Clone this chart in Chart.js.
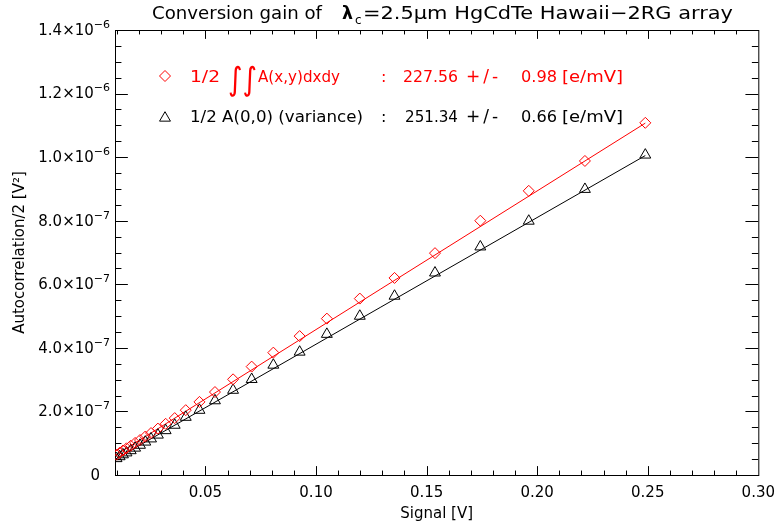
<!DOCTYPE html>
<html>
<head>
<meta charset="utf-8">
<title>Conversion gain</title>
<script src="https://cdn.jsdelivr.net/npm/chart.js@4.4.1/dist/chart.umd.min.js"></script>
<style>
  html, body { margin: 0; padding: 0; background: #fff; }
  canvas { display: block; }
</style>
</head>
<body>
<canvas id="gain" width="784" height="529"></canvas>
<script>
// mean signal of each ramp sample [V]
const signal = [0.2489, 0.2216, 0.1962, 0.1743, 0.1538, 0.1355, 0.1198, 0.1049, 0.0926,
  0.0807, 0.0709, 0.0625, 0.0543, 0.0473, 0.0411, 0.0361, 0.0320, 0.0285, 0.0254,
  0.0228, 0.0204, 0.0182, 0.0162, 0.0143, 0.0127, 0.0112, 0.0098];
// 1/2 of the integrated autocorrelation [V^2]
const acfIntegral = [1.108e-6, 9.88e-7, 8.94e-7, 8.00e-7, 6.98e-7, 6.20e-7, 5.55e-7, 4.92e-7, 4.37e-7,
  3.85e-7, 3.41e-7, 3.01e-7, 2.61e-7, 2.30e-7, 2.04e-7, 1.79e-7, 1.61e-7, 1.46e-7, 1.32e-7,
  1.21e-7, 1.10e-7, 1.01e-7, 9.2e-8, 8.4e-8, 7.7e-8, 7.0e-8, 6.4e-8];
// 1/2 A(0,0), i.e. half the variance [V^2]
const acfVariance = [1.007e-6, 8.99e-7, 7.99e-7, 7.18e-7, 6.36e-7, 5.63e-7, 5.00e-7, 4.43e-7, 3.87e-7,
  3.46e-7, 3.01e-7, 2.67e-7, 2.34e-7, 2.04e-7, 1.82e-7, 1.57e-7, 1.40e-7, 1.26e-7, 1.14e-7,
  1.04e-7, 9.4e-8, 8.5e-8, 7.7e-8, 7.0e-8, 6.4e-8, 5.8e-8, 5.2e-8];

// linear fits, end points only
const fitSignal = [0.0091, 0.2489];
const fitIntegral = [6.1e-8, 1.107e-6];
const fitVariance = [4.9e-8, 1.005e-6];

const xTickLabels = ['0.05', '0.10', '0.15', '0.20', '0.25', '0.30'];
// y labels as mantissa ×10^exponent
const yTickMantissa = ['0', '2.0', '4.0', '6.0', '8.0', '1.0', '1.2', '1.4'];
const yTickExponent = ['', '−7', '−7', '−7', '−7', '−6', '−6', '−6'];

const RED = '#ff0000';
const FONT = '"DejaVu Sans", sans-serif';

function pairs(xs, ys) {
  return xs.map((x, i) => ({ x: x, y: ys[i] }));
}

// squeeze/stretch a string so it spans w pixels
function fitText(ctx, text, x, y, w) {
  const m = ctx.measureText(text).width;
  ctx.save();
  ctx.translate(x, y);
  ctx.scale(w / m, 1);
  ctx.fillText(text, 0, 0);
  ctx.restore();
}

// box with inward ticks on all four sides, plus the y labels
const frame = {
  id: 'frame',
  beforeDatasetsDraw(chart) {
    const { ctx, chartArea: a, scales: { x, y } } = chart;
    const xLen = 0.02 * (a.bottom - a.top);
    const yLen = 0.02 * (a.right - a.left);
    ctx.save();
    ctx.strokeStyle = '#000';
    ctx.lineWidth = 1;
    ctx.strokeRect(a.left + 0.5, a.top + 0.5, a.right - a.left, a.bottom - a.top);
    ctx.beginPath();
    x.ticks.forEach(t => {
      const px = Math.round(x.getPixelForValue(t.value)) + 0.5;
      if (px < a.left + 1 || px > a.right) return;
      const len = t.major ? xLen : xLen / 2;
      ctx.moveTo(px, a.bottom); ctx.lineTo(px, a.bottom - len);
      ctx.moveTo(px, a.top); ctx.lineTo(px, a.top + len);
    });
    y.ticks.forEach(t => {
      const py = Math.round(y.getPixelForValue(t.value)) + 0.5;
      const len = t.major ? yLen : yLen / 2;
      ctx.moveTo(a.left, py); ctx.lineTo(a.left + len, py);
      ctx.moveTo(a.right, py); ctx.lineTo(a.right - len, py);
    });
    ctx.stroke();

    ctx.fillStyle = '#000';
    ctx.textAlign = 'right';
    ctx.textBaseline = 'middle';
    const right = a.left - 5;
    yTickMantissa.forEach((m, i) => {
      const py = y.getPixelForValue(i * 2e-7);
      const e = yTickExponent[i];
      if (!e) {
        ctx.font = '15px ' + FONT;
        ctx.fillText(m, right - 10, py + 1);
        return;
      }
      ctx.font = '11px ' + FONT;
      const ew = ctx.measureText(e).width;
      ctx.fillText(e, right, py - 5);
      ctx.font = '15px ' + FONT;
      ctx.fillText(m + '×10', right - ew, py + 1);
    });
    ctx.restore();
  }
};

// title and the fit results in the upper left
const annotations = {
  id: 'annotations',
  afterDraw(chart) {
    const ctx = chart.ctx;
    const mark = { rotation: 0, borderWidth: 1 };
    ctx.save();
    ctx.textAlign = 'left';
    ctx.textBaseline = 'alphabetic';
    ctx.lineWidth = 1;

    ctx.fillStyle = '#000';
    ctx.font = '18px ' + FONT;
    fitText(ctx, 'Conversion gain of', 152, 19, 170);
    ctx.font = 'bold 18px ' + FONT;
    fitText(ctx, 'λ', 342, 19, 11);
    ctx.font = '12px ' + FONT;
    ctx.fillText('c', 355, 24);
    ctx.font = '18px ' + FONT;
    fitText(ctx, '=2.5μm HgCdTe Hawaii−2RG array', 363, 19, 370);

    // red row
    ctx.strokeStyle = RED;
    ctx.fillStyle = 'rgba(0,0,0,0)';
    Chart.helpers.drawPoint(ctx, { ...mark, pointStyle: 'rectRot', radius: 5.5 }, 165, 76);
    ctx.fillStyle = RED;
    ctx.font = '16px ' + FONT;
    fitText(ctx, '1/2', 190, 82, 30);
    ctx.font = '32px ' + FONT;
    fitText(ctx, '∫∫', 228, 90, 29);
    ctx.font = '16px ' + FONT;
    fitText(ctx, 'A(x,y)dxdy', 258, 82, 82);
    ctx.fillText(':', 381, 82);
    fitText(ctx, '227.56', 403, 82, 55);
    ctx.font = '17px ' + FONT;
    ctx.letterSpacing = '3px';
    ctx.fillText('+/-', 466, 82);
    ctx.letterSpacing = '0px';
    ctx.font = '16px ' + FONT;
    fitText(ctx, '0.98', 521, 82, 36);
    fitText(ctx, '[e/mV]', 562, 82, 61);

    // black row
    ctx.strokeStyle = '#000';
    ctx.fillStyle = 'rgba(0,0,0,0)';
    Chart.helpers.drawPoint(ctx, { ...mark, pointStyle: 'triangle', radius: 6.3 }, 165, 118);
    ctx.fillStyle = '#000';
    fitText(ctx, '1/2 A(0,0) (variance)', 190, 122, 173);
    ctx.fillText(':', 381, 122);
    fitText(ctx, '251.34', 405, 122, 53);
    ctx.font = '17px ' + FONT;
    ctx.letterSpacing = '3px';
    ctx.fillText('+/-', 466, 122);
    ctx.letterSpacing = '0px';
    ctx.font = '16px ' + FONT;
    fitText(ctx, '0.66', 521, 122, 36);
    fitText(ctx, '[e/mV]', 562, 122, 61);
    ctx.restore();
  }
};

new Chart(document.getElementById('gain'), {
  type: 'scatter',
  data: {
    datasets: [
      {
        data: pairs(signal, acfIntegral),
        pointStyle: 'rectRot',
        pointRadius: 5.5,
        pointHoverRadius: 5.5,
        pointBorderWidth: 1,
        borderColor: RED,
        backgroundColor: 'rgba(0,0,0,0)'
      },
      {
        data: pairs(signal, acfVariance),
        pointStyle: 'triangle',
        pointRadius: 6.3,
        pointHoverRadius: 6.3,
        pointBorderWidth: 1,
        borderColor: '#000',
        backgroundColor: 'rgba(0,0,0,0)'
      },
      {
        data: pairs(fitSignal, fitIntegral),
        showLine: true,
        borderColor: RED,
        borderWidth: 1,
        pointRadius: 0
      },
      {
        data: pairs(fitSignal, fitVariance),
        showLine: true,
        borderColor: '#000',
        borderWidth: 1,
        pointRadius: 0
      }
    ]
  },
  options: {
    responsive: false,
    animation: false,
    devicePixelRatio: 1,
    layout: { padding: { top: 30, right: 17, left: 0, bottom: 0 } },
    plugins: {
      legend: { display: false },
      tooltip: { enabled: false }
    },
    scales: {
      x: {
        type: 'linear',
        min: 0.0091,
        max: 0.30,
        afterFit(scale) { scale.height = 54; },
        afterBuildTicks(scale) {
          const ticks = [];
          for (let i = 1; i <= 30; i++) ticks.push({ value: i / 100, major: i % 5 === 0 });
          scale.ticks = ticks;
        },
        grid: { display: false, drawTicks: false },
        border: { display: false },
        ticks: {
          autoSkip: false,
          maxRotation: 0,
          padding: 9,
          color: '#000',
          font: { family: FONT, size: 15 },
          callback(v) {
            const k = Math.round(v * 100);
            return k % 5 === 0 ? xTickLabels[k / 5 - 1] : '';
          }
        },
        title: {
          display: true,
          text: 'Signal [V]',
          color: '#000',
          font: { family: FONT, size: 15 },
          padding: { top: 0, bottom: 6 }
        }
      },
      y: {
        type: 'linear',
        min: 0,
        max: 1.4e-6,
        afterFit(scale) { scale.width = 115; },
        afterBuildTicks(scale) {
          const ticks = [];
          for (let i = 0; i <= 28; i++) ticks.push({ value: i * 5e-8, major: i % 4 === 0 });
          scale.ticks = ticks;
        },
        grid: { display: false, drawTicks: false },
        border: { display: false },
        ticks: { display: false },
        title: {
          display: true,
          text: 'Autocorrelation/2 [V²]',
          color: '#000',
          font: { family: FONT, size: 15 },
          padding: { top: 11, bottom: 0 }
        }
      }
    }
  },
  plugins: [frame, annotations]
});
</script>
</body>
</html>
